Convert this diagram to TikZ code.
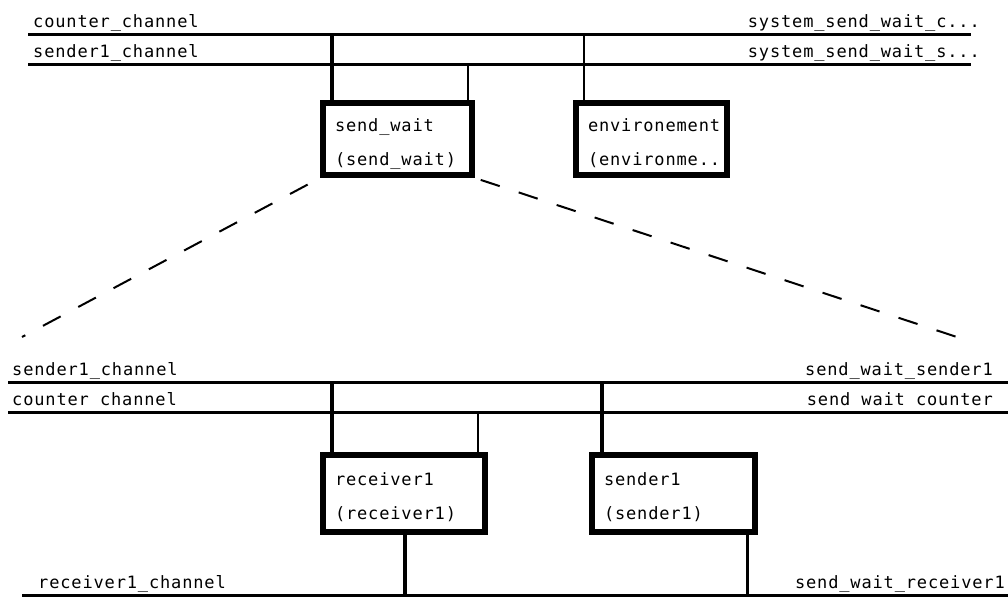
\documentclass[tikz,border=0pt]{standalone}
\usepackage{fontspec}
\newfontfamily\pixfont{DejaVu Sans Mono}[LetterSpace=5]
\begin{document}
\begin{tikzpicture}[
		x=1pt, y=-1pt,
		bus/.style={line width=3pt},
		lowbus/.style={line width=2.5pt},
		link/.style={line width=4pt},
		thinlink/.style={line width=2pt},
		block/.style={draw, rectangle, line width=6pt, align=left, inner xsep=12pt,
				text height=20pt, text depth=36pt,
				font=\pixfont\fontsize{17}{34}\selectfont},
		tag/.style={inner sep=0pt, font=\pixfont\fontsize{17}{18}\selectfont},
		zoomline/.style={line width=2pt, dash pattern=on 20pt off 20pt}
	]
	\useasboundingbox (0,0) rectangle (1008,598);

	% upper level
	\coordinate (counterL) at (28,34);
	\coordinate (counterR) at (971,34);
	\coordinate (senderL) at (28,64);
	\coordinate (senderR) at (971,64);
	\draw[bus] (counterL) -- (counterR);
	\draw[bus] (senderL) -- (senderR);
	\node[tag, anchor=base west] (tcounter) at (33,27) {counter\_channel};
	\node[tag, anchor=base west] (tsender) at (33,57) {sender1\_channel};
	\node[tag, anchor=base east] (tsysc) at (980,27) {system\_send\_wait\_c...};
	\node[tag, anchor=base east] (tsyss) at (980,57) {system\_send\_wait\_s...};

	\node[block, minimum width=149pt, minimum height=72pt, text width=125pt] (sw) at (397.5,139)
		{send\_wait\\(send\_wait)};
	\node[block, minimum width=151pt, minimum height=72pt, text width=127pt] (env) at (651.5,139)
		{environement\\(environme...};

	\coordinate (swA) at (332,34);
	\coordinate (swB) at (468,64);
	\coordinate (envA) at (584,34);
	\draw[link] (swA) -- (swA |- sw.north);
	\draw[thinlink] (swB) -- (swB |- sw.north);
	\draw[thinlink] (envA) -- (envA |- env.north);

	% zoom into send_wait
	\coordinate (zoomL) at (22,337);
	\coordinate (zoomR) at (972,342);
	\draw[zoomline, shorten <=14pt] (sw.south west) -- (zoomL);
	\draw[zoomline, shorten <=6pt] (sw.south east) -- (zoomR);

	% lower level
	\coordinate (sendL) at (8,382);
	\coordinate (sendR) at (1008,382);
	\coordinate (countL) at (8,412);
	\coordinate (countR) at (1008,412);
	\coordinate (recvL) at (22,595.5);
	\coordinate (recvR) at (1008,595.5);
	\draw[bus] (sendL) -- (sendR);
	\draw[bus] (countL) -- (countR);
	\draw[lowbus] (recvL) -- (recvR);
	\node[tag, anchor=base west] (tsend) at (12,375) {sender1\_channel};
	\node[tag, anchor=base west] (tcount) at (12,405) {counter channel};
	\node[tag, anchor=base east] (tswsend) at (993,375) {send\_wait\_sender1};
	\node[tag, anchor=base east] (tswcount) at (993,405) {send wait counter};
	\node[tag, anchor=base west] (trecv) at (38,588) {receiver1\_channel};
	\node[tag, anchor=base east] (tswrecv) at (1005,588) {send\_wait\_receiver1};

	\node[block, minimum width=162pt, minimum height=77pt, text width=138pt] (recv) at (404,493.5)
		{receiver1\\(receiver1)};
	\node[block, minimum width=163pt, minimum height=77pt, text width=139pt] (send) at (673.5,493.5)
		{sender1\\(sender1)};

	\coordinate (recvA) at (332,382);
	\coordinate (recvB) at (478,412);
	\coordinate (sendA) at (602,382);
	\coordinate (recvC) at (405,595.5);
	\coordinate (sendC) at (747,595.5);
	\draw[link] (recvA) -- (recvA |- recv.north);
	\draw[thinlink] (recvB) -- (recvB |- recv.north);
	\draw[link] (sendA) -- (sendA |- send.north);
	\draw[link] (recv.south -| recvC) -- (recvC);
	\draw[line width=3pt] (send.south -| sendC) -- (sendC);
\end{tikzpicture}
\end{document}
